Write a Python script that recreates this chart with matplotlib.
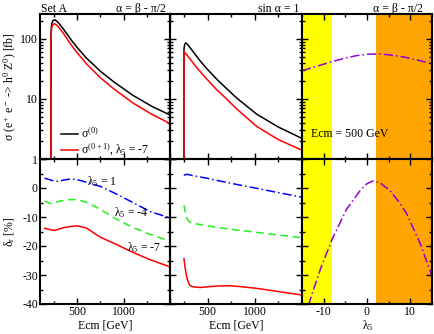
import numpy as np
import matplotlib
matplotlib.use('Agg')
import matplotlib.pyplot as plt
from matplotlib.ticker import MultipleLocator, NullFormatter, LogLocator

plt.rcParams['font.family'] = ['Liberation Serif', 'DejaVu Serif']
# upright greek letters, like the original
plt.rcParams['mathtext.fontset'] = 'custom'
plt.rcParams['mathtext.rm'] = 'Liberation Serif'
plt.rcParams['mathtext.it'] = 'Liberation Serif'
plt.rcParams['mathtext.bf'] = 'Liberation Serif:bold'
plt.rcParams['font.size'] = 8.5

# ---- data ----
# top left: alpha = beta - pi/2, cross sections [fb]
ecm_tl = [218, 218.5, 225, 235, 250, 262, 280, 300, 350, 400, 450, 500, 600, 750, 900, 1100, 1300, 1500]
sig0_tl = [0.5, 120, 175, 198, 206, 207, 198, 185, 148, 115, 90, 72, 48, 29, 19, 11.5, 7.6, 5.4]
sig01_tl = [0.5, 100, 150, 170, 178, 178, 170, 158, 125, 96, 74, 59, 38.5, 22.6, 14.5, 8.6, 5.6, 3.9]

# top middle: sin alpha = 1
ecm_tm = [248, 248.5, 255, 266, 280, 300, 350, 400, 490, 600, 665, 800, 1018, 1250, 1500]
sig0_tm = [0.5, 68, 80, 86, 83, 76, 60, 47, 32, 21, 16.8, 10.6, 5.6, 3.4, 2.2]
sig01_tm = [0.5, 62, 60, 57, 54, 49, 39, 31, 21.5, 14, 11.3, 7.0, 3.5, 2.1, 1.4]

# top right: Ecm = 500 GeV, vs lambda5
lam_tr = [-15, -12.5, -10, -7.5, -5, -2.5, 0, 1.5, 2.5, 5, 7.5, 10, 12.5, 15]
sig_tr = [29.5, 33.5, 38, 43, 48, 52.5, 55.5, 56, 56, 54.5, 51.5, 47.5, 43, 38.5]

# bottom left: relative corrections [%]
ecm_bl = [150, 200, 229, 261, 294, 350, 423, 477, 509, 600, 746, 925, 1100, 1284, 1500]
d_l1_bl = [3.4, 2.9, 2.6, 2.4, 2.3, 2.7, 3.1, 3.0, 2.8, 2.0, 0.6, -2.1, -5.0, -8.1, -10.3]
d_l4_bl = [-4.5, -5.2, -5.4, -5.0, -4.7, -4.3, -4.0, -4.0, -4.1, -4.9, -7.3, -10.8, -13.6, -16.0, -18.3]
d_l7_bl = [-13.9, -14.3, -14.5, -14.6, -14.3, -13.7, -13.3, -13.1, -13.1, -13.8, -16.9, -19.5, -22.2, -24.7, -27.2]

# bottom middle
ecm_bm = [248, 260, 280, 300, 312, 350, 420, 489, 600, 736, 842, 1018, 1250, 1456, 1500]
d_l1_bm = [4.3, 4.6, 4.7, 4.6, 4.5, 4.2, 3.8, 3.4, 2.6, 1.7, 1.0, -0.1, -1.6, -2.9, -3.2]
d_l4_bm = [-5.9, -8.0, -10.5, -11.5, -11.8, -12.2, -12.6, -13.0, -13.6, -14.2, -14.6, -15.3, -16.2, -17.0, -17.2]
d_l7_bm = [-24.4, -27.5, -31.0, -33.0, -33.6, -34.1, -34.3, -34.1, -33.8, -33.7, -34.0, -34.6, -35.7, -36.7, -36.9]

# bottom right
lam_br = [-13.5, -13, -10.8, -8, -4.7, -1.6, 0, 1.5, 3, 5.3, 7.5, 9.2, 12.2, 14.5, 15]
d_br = [-40.5, -38, -28.2, -17.5, -7.3, -0.9, 1.5, 2.5, 1.8, -0.9, -5, -9, -18.9, -28.2, -30.5]

# excluded lambda5 regions
yellow_band = (-15, -8)
orange_band = (2, 15)

W, H = 434, 334
fig = plt.figure(figsize=(W / 100, H / 100), dpi=100)


def box(x0, y0, x1, y1):
    # pixel box (top-left origin) -> figure fraction
    return [x0 / W, 1 - y1 / H, (x1 - x0) / W, (y1 - y0) / H]


def px(x, y):
    return x / W, 1 - y / H


xs = [(40, 170), (170, 302), (302, 432)]
top = [fig.add_axes(box(a, 14, b, 159)) for a, b in xs]
bot = [fig.add_axes(box(a, 159, b, 304)) for a, b in xs]

for ax in top + bot:
    ax.patch.set_alpha(0)
    for s in ax.spines.values():
        s.set_linewidth(1.5)
    ax.tick_params(which='both', direction='in', top=True, right=True, width=1.0, pad=1.5)
    ax.tick_params(which='major', length=4.5)
    ax.tick_params(which='minor', length=2.5)

# top row: log scale
for ax in top:
    ax.set_yscale('log')
    ax.set_ylim(1, 260)
    ax.yaxis.set_major_locator(LogLocator(base=10, numticks=10))
    ax.yaxis.set_minor_locator(LogLocator(base=10, subs=np.arange(2, 10), numticks=10))
    ax.yaxis.set_minor_formatter(NullFormatter())
    ax.set_xticklabels([])

for ax in top[:2] + bot[:2]:
    ax.set_xlim(100, 1500)
    ax.xaxis.set_major_locator(MultipleLocator(500))
    ax.xaxis.set_minor_locator(MultipleLocator(250))

for ax in [top[2], bot[2]]:
    ax.set_xlim(-15, 15)
    ax.xaxis.set_major_locator(MultipleLocator(10))
    ax.xaxis.set_minor_locator(MultipleLocator(5))
    ax.axvspan(*yellow_band, color='#ffff00', lw=0, zorder=0)
    ax.axvspan(*orange_band, color='#ffa500', lw=0, zorder=0)

for ax in bot:
    ax.set_ylim(-40, 10)
    ax.yaxis.set_major_locator(MultipleLocator(10))
    ax.yaxis.set_minor_locator(MultipleLocator(5))

top[0].set_yticks([1, 10, 100])
top[0].set_yticklabels(['1', '10', '100'])
for ax in top[1:] + bot[1:]:
    ax.set_yticklabels([])
bot[0].set_yticks([-40, -30, -20, -10, 0, 10])
bot[0].set_yticklabels(['-40', '-30', '-20', '-10', '0', ''])

bot[0].set_xticks([500, 1000, 1500])
bot[0].set_xticklabels(['500', '1000', ''])
bot[1].set_xticks([500, 1000, 1500])
bot[1].set_xticklabels(['500', '1000', ''])
bot[2].set_xticks([-10, 0, 10])
bot[2].set_xticklabels(['-10', '0', '10'])

dashdot = (0, (6, 2, 1, 2))

# cross sections
top[0].plot(ecm_tl, sig0_tl, color='black', lw=1.1)
top[0].plot(ecm_tl, sig01_tl, color='red', lw=1.1)
top[1].plot(ecm_tm, sig0_tm, color='black', lw=1.1)
top[1].plot(ecm_tm, sig01_tm, color='red', lw=1.1)
top[2].plot(lam_tr, sig_tr, color='#9400d3', lw=1.1, ls=dashdot)

# corrections
bot[0].plot(ecm_bl, d_l1_bl, color='blue', lw=1.1, ls=dashdot)
bot[0].plot(ecm_bl, d_l4_bl, color='#22ee22', lw=1.1, ls=(0, (5, 3)))
bot[0].plot(ecm_bl, d_l7_bl, color='red', lw=1.1)
bot[1].plot(ecm_bm, d_l1_bm, color='blue', lw=1.1, ls=dashdot)
bot[1].plot(ecm_bm, d_l4_bm, color='#22ee22', lw=1.1, ls=(0, (5, 3)))
bot[1].plot(ecm_bm, d_l7_bm, color='red', lw=1.1)
bot[2].plot(lam_br, d_br, color='#9400d3', lw=1.1, ls=dashdot)

# legend, drawn by hand like the original
top[0].plot([330, 510], [2.6, 2.6], color='black', lw=1.1)
top[0].plot([330, 510], [1.4, 1.4], color='red', lw=1.1)
top[0].text(540, 2.6, r'$\sigma^{(0)}$', va='center')
top[0].text(540, 1.4, r'$\sigma^{(0+1)}$, $\lambda_5$ = -7', va='center')

fig.text(*px(102, 182), r'$\lambda_5$ = 1', ha='center', va='center', zorder=5)
fig.text(*px(131, 213), r'$\lambda_5$ = -4', ha='center', va='center', zorder=5)
fig.text(*px(144, 248), r'$\lambda_5$ = -7', ha='center', va='center', zorder=5)

top[2].text(-4, 2.6, 'Ecm = 500 GeV', ha='center', va='center')

# headers
fig.text(*px(41, 12), 'Set A', ha='left', va='baseline')
fig.text(*px(166, 12), 'α = β - π/2', ha='right', va='baseline')
fig.text(*px(299, 12), 'sin α = 1', ha='right', va='baseline')
fig.text(*px(423, 12), 'α = β - π/2', ha='right', va='baseline')

# axis titles
fig.text(*px(10, 87), r'$\sigma$ (e$^+$ e$^-$ -> h$^0$ Z$^0$) [fb]', rotation=90,
         ha='center', va='center')
fig.text(*px(10, 232), r'$\delta_r$ [%]', rotation=90, ha='center', va='center')
fig.text(*px(105, 326), 'Ecm [GeV]', ha='center', va='center')
fig.text(*px(236, 326), 'Ecm [GeV]', ha='center', va='center')
fig.text(*px(368, 326), r'$\lambda_5$', ha='center', va='center')

fig.savefig('out.png', dpi=100)
